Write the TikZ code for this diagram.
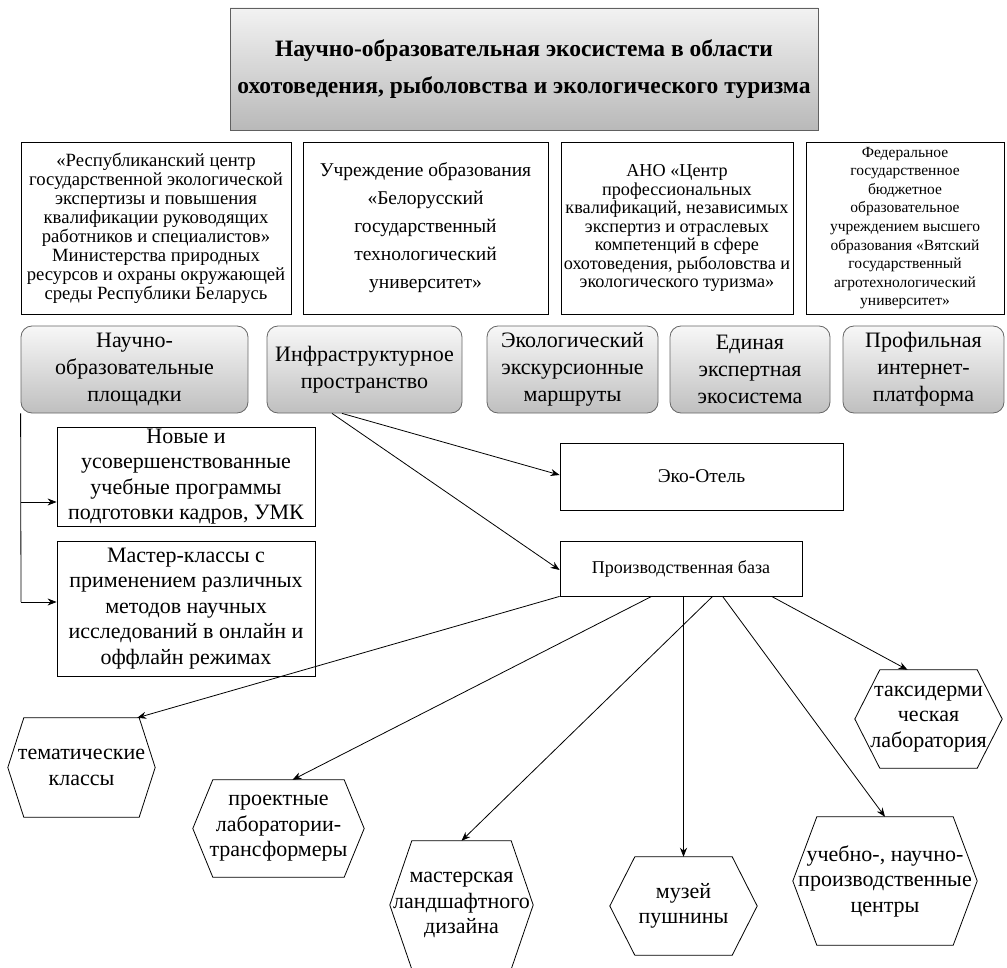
\documentclass[tikz,border=0pt]{standalone}
\usepackage{fontspec}
\setmainfont{Liberation Serif}
\usetikzlibrary{arrows.meta,calc}
\newcommand\hexframe[2]{%
  \draw[line width=0.8pt] ([xshift=#2]#1.north west) -- ([xshift=-#2]#1.north east) -- (#1.east)
    -- ([xshift=-#2]#1.south east) -- ([xshift=#2]#1.south west) -- (#1.west) -- cycle;}
\begin{document}
\begin{tikzpicture}[x=1pt,y=-1pt,
  every node/.style={inner sep=0pt, align=center},
  titlebox/.style={draw=gray!75!black, line width=0.8pt, top color=gray!10, bottom color=gray!55,
    font=\bfseries\fontsize{23.5}{37}\selectfont},
  orgbox/.style={draw, line width=0.8pt, minimum height=172pt, font=\fontsize{18.7}{19}\selectfont},
  graybox/.style={draw=gray!80!black, line width=0.8pt, rounded corners=11pt, top color=gray!6,
    bottom color=gray!50, minimum height=87pt, font=\fontsize{22}{27}\selectfont},
  plainbox/.style={draw, line width=0.8pt, font=\fontsize{22}{25.5}\selectfont},
  hexa/.style={font=\fontsize{22}{25.5}\selectfont},
  arr/.style={line width=0.8pt, -{Stealth[length=9pt,width=7pt]}},
  conn/.style={line width=0.8pt}]
\useasboundingbox (0,0) rectangle (1007,968);

% title
\node[titlebox, minimum width=588pt, minimum height=122pt] (t) at (524,69)
  {Научно-образовательная экосистема в области\\охотоведения, рыболовства и экологического туризма};

% organisations
\node[orgbox, minimum width=270pt] (o1) at (156,228)
  {«Республиканский центр\\государственной экологической\\экспертизы и повышения\\квалификации руководящих\\работников и специалистов»\\Министерства природных\\ресурсов и охраны окружающей\\среды Республики Беларусь};
\node[orgbox, minimum width=245pt, font=\fontsize{19.5}{28}\selectfont] (o2) at (425.5,228)
  {Учреждение образования\\«Белорусский\\государственный\\технологический\\университет»};
\node[orgbox, minimum width=232pt, font=\fontsize{18.2}{18.5}\selectfont] (o3) at (677,228)
  {АНО «Центр\\профессиональных\\квалификаций, независимых\\экспертиз и отраслевых\\компетенций в сфере\\охотоведения, рыболовства и\\экологического туризма»};
\node[orgbox, minimum width=198pt, font=\fontsize{15.5}{18.6}\selectfont] (o4) at (905,228)
  {Федеральное\\государственное\\бюджетное\\образовательное\\учреждением высшего\\образования «Вятский\\государственный\\агротехнологический\\университет»};

% gray boxes
\node[graybox, minimum width=227pt] (gA) at (134.5,369.5) {Научно-\\образовательные\\площадки};
\node[graybox, minimum width=195pt] (gB) at (364.5,369.5) {Инфраструктурное\\пространство};
\node[graybox, minimum width=171pt] (gC) at (572.5,369.5) {Экологический\\экскурсионные\\маршруты};
\node[graybox, minimum width=160pt] (gD) at (750,369.5) {Единая\\экспертная\\экосистема};
\node[graybox, minimum width=161pt] (gE) at (923.5,369.5) {Профильная\\интернет-\\платформа};

% left boxes
\node[plainbox, minimum width=258pt, minimum height=99pt] (n1) at (186,476.5)
  {Новые и\\усовершенствованные\\учебные программы\\подготовки кадров, УМК};
\node[plainbox, minimum width=258pt, minimum height=135pt] (n2) at (186,608.5)
  {Мастер-классы с\\применением различных\\методов научных\\исследований в онлайн и\\оффлайн режимах};

% right boxes
\node[plainbox, minimum width=283pt, minimum height=67pt, font=\fontsize{19.5}{22}\selectfont] (eko) at (701.5,476.5) {Эко-Отель};
\node[plainbox, minimum width=242pt, minimum height=55pt, font=\fontsize{18}{22}\selectfont] (prod) at (681,568.5) {Производственная база};

% hexagons
\node[hexa, minimum width=147pt, minimum height=99pt] (h1) at (81.5,767.5) {тематические\\классы};
\hexframe{h1}{16pt}
\node[hexa, minimum width=171pt, minimum height=97pt] (h2) at (278.5,828.5) {проектные\\лаборатории-\\трансформеры};
\hexframe{h2}{20pt}
\node[hexa, minimum width=143pt, minimum height=128pt] (h3) at (461.5,905) {мастерская\\ландшафтного\\дизайна};
\hexframe{h3}{22pt}
\node[hexa, minimum width=147pt, minimum height=98pt] (h4) at (683.5,906) {музей\\пушнины};
\hexframe{h4}{25pt}
\node[hexa, minimum width=184pt, minimum height=128pt] (h5) at (885,881) {учебно-, научно-\\производственные\\центры};
\hexframe{h5}{24pt}
\node[hexa, minimum width=147pt, minimum height=98pt] (h6) at (928.5,719) {таксидерми\\ческая\\лаборатория};
\hexframe{h6}{25pt}

% left connector
\coordinate (j1) at (21,502);
\coordinate (j2) at (21,602);
\draw[conn] (gA.south west) -- (j2);
\draw[arr] (j1) -- (j1 -| n1.west);
\draw[arr] (j2) -- (j2 -| n2.west);

% infrastructure arrows
\draw[arr] ([xshift=-22.5pt]gB.south) -- ([yshift=1.5pt]eko.west);
\draw[arr] ([xshift=-32.5pt]gB.south) -- ([yshift=-1.5pt]prod.west);

% production base arrows
\draw[arr] (prod.south west) -- ([xshift=-18pt]h1.north east);
\draw[arr] ([xshift=92pt]prod.south west) -- ([xshift=14pt]h2.north);
\draw[arr] ([xshift=153pt]prod.south west) -- (h3.north);
\draw[arr] (prod.south -| h4.north) -- (h4.north);
\draw[arr] ([xshift=163pt]prod.south west) -- (h5.north);
\draw[arr] ([xshift=212pt]prod.south west) -- ([xshift=-21pt]h6.north);
\end{tikzpicture}
\end{document}
